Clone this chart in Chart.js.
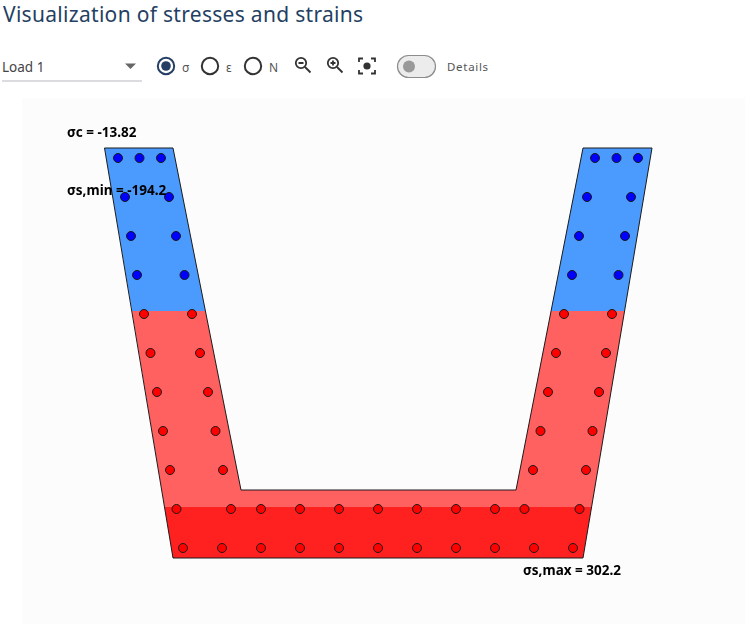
<!DOCTYPE html>
<html>
<head>
<meta charset="utf-8">
<title>Visualization of stresses and strains</title>
<script src="https://cdn.jsdelivr.net/npm/chart.js@4"></script>
<style>
    html, body { margin: 0; padding: 0; background: #fff; overflow: hidden; }
    body { width: 745px; height: 624px; position: relative; font-family: "Noto Sans", sans-serif; }
    .abs { position: absolute; white-space: nowrap; }
    #title { left: 3px; top: 0px; font-size: 21px; line-height: 28px; color: #243f63; letter-spacing: 0.3px; }
    #load { left: 2px; top: 58px; font-size: 13.5px; line-height: 18px; color: #444; }
    #underline { left: 2px; top: 80px; width: 140px; height: 2px; background: #dcdce0; }
    .lbl { font-size: 12px; line-height: 16px; color: #555; }
    #plot { position: absolute; left: 22px; top: 98px; width: 723px; height: 526px; background: #fcfcfc; }
    #toolbar { position: absolute; left: 0; top: 50px; }
</style>
</head>
<body>
<div class="abs" id="title">Visualization of stresses and strains</div>
<div class="abs" id="load">Load 1</div>
<div class="abs" id="underline"></div>
<svg id="toolbar" width="500" height="34" viewBox="0 50 500 34">
    <path d="M125 63.500h11l-5.500 5.500z" fill="#666"/>
    <circle cx="166" cy="66" r="8.200" fill="none" stroke="#243f63" stroke-width="2"/>
    <circle cx="166" cy="66" r="4.800" fill="#243f63"/>
    <circle cx="210" cy="66" r="8.200" fill="none" stroke="#333" stroke-width="2"/>
    <circle cx="253" cy="66" r="8.200" fill="none" stroke="#333" stroke-width="2"/>
    <g fill="none" stroke="#333" stroke-width="1.800">
        <circle cx="301" cy="63" r="5.200"/><path d="M305 67l5.500 5.500M298.500 63h5"/>
        <circle cx="333" cy="63" r="5.200"/><path d="M337 67l5.500 5.500M330.500 63h5M333 60.500v5"/>
        <path d="M359 62v-3.500h4M371 58.500h4v3.500M375 70v3.500h-4M363 73.500h-4v-3.500"/>
    </g>
    <circle cx="367" cy="66" r="3.600" fill="#333"/>
    <rect x="397.500" y="55.500" width="38" height="22" rx="11" fill="#ececec" stroke="#8c8c8c" stroke-width="1.200"/>
    <circle cx="409" cy="66.500" r="6" fill="#999"/>
</svg>
<div class="abs lbl" style="left:182px;top:60px">σ</div>
<div class="abs lbl" style="left:226px;top:60px">ε</div>
<div class="abs lbl" style="left:269px;top:60px">N</div>
<div class="abs lbl" style="left:447px;top:59px;font-size:11.5px;letter-spacing:.7px">Details</div>
<div id="plot"><canvas id="sectionChart"></canvas></div>
<script>
    // 断面の座標 (左下を原点, mm)
    const outline = [[-68.5, 410], [0, 410], [68, 68], [343, 68], [410, 410], [479, 410], [410, 0], [0, 0], [-68.5, 410]];
    const compressionLeft = [[-68.5, 410], [0, 410], [32.4, 247], [-41, 247]];
    const compressionRight = [[410, 410], [479, 410], [451.6, 247], [378, 247]];
    const tensionZone = [[-41, 247], [32.4, 247], [68, 68], [343, 68], [378, 247], [451.6, 247], [418.6, 51], [-8.5, 51]];
    const tensionMaxZone = [[-8.5, 51], [418.6, 51], [410, 0], [0, 0]];

    // 鉄筋の位置
    const compressedBars = [
        [-55, 400], [-33.5, 400], [-12, 400], [422, 400], [443.5, 400], [465, 400],
        [-48, 361], [-4, 361], [414, 361], [458, 361],
        [-42, 322], [3, 322], [406, 322], [452, 322],
        [-36, 283], [11.5, 283], [399, 283], [445.5, 283]
    ];
    const tensileBars = [
        [-29, 244], [19, 244], [391, 244], [439, 244],
        [-22.5, 205], [27, 205], [383, 205], [433, 205],
        [-16, 166], [35, 166], [375, 166], [426, 166],
        [-10, 127], [42.5, 127], [367.5, 127], [419.5, 127],
        [-3, 88], [50, 88], [360, 88], [413, 88],
        [3.5, 49], [58, 49], [88, 49], [127, 49], [166, 49], [205, 49], [244, 49], [283, 49], [322, 49], [351.5, 49], [406.5, 49],
        [10, 10], [49, 10], [88, 10], [127, 10], [166, 10], [205, 10], [244, 10], [283, 10], [322, 10], [361, 10], [400, 10]
    ];

    const resultTexts = ['σc = -13.82', 'σs,min = -194.2', 'σs,max = 302.2'];
    const resultPositions = [[-106, 425], [-106, 366.5], [350, -13]];

    function toPoints(list) {
        return list.map(p => ({ x: p[0], y: p[1] }));
    }

    function zoneDataset(list, color) {
        return {
            data: toPoints(list),
            showLine: true,
            fill: 'shape',
            backgroundColor: color,
            borderWidth: 0,
            borderColor: color,
            pointRadius: 0,
            tension: 0
        };
    }

    function barDataset(list, color) {
        return {
            data: toPoints(list),
            showLine: false,
            pointRadius: 4.5,
            pointBorderWidth: 1,
            pointBackgroundColor: color,
            pointBorderColor: '#1a1a1a'
        };
    }

    // σの値をキャンバスに描画
    const resultLabels = {
        id: 'resultLabels',
        afterDatasetsDraw(chart) {
            const { ctx, scales } = chart;
            ctx.save();
            ctx.font = '700 13.5px "Noto Sans"';
            ctx.fillStyle = '#000';
            ctx.textBaseline = 'middle';
            resultTexts.forEach((text, i) => {
                ctx.fillText(text, scales.x.getPixelForValue(resultPositions[i][0]), scales.y.getPixelForValue(resultPositions[i][1]));
            });
            ctx.restore();
        }
    };

    new Chart(document.getElementById('sectionChart'), {
        type: 'scatter',
        data: {
            datasets: [
                barDataset(compressedBars, '#0000ff'),
                barDataset(tensileBars, '#ff0000'),
                {
                    data: toPoints(outline),
                    showLine: true,
                    fill: false,
                    borderColor: '#1a1a1a',
                    borderWidth: 1,
                    pointRadius: 0,
                    tension: 0
                },
                zoneDataset(compressionLeft, '#4b9bff'),
                zoneDataset(compressionRight, '#4b9bff'),
                zoneDataset(tensionZone, '#ff6060'),
                zoneDataset(tensionMaxZone, '#ff2020')
            ]
        },
        options: {
            responsive: true,
            maintainAspectRatio: false,
            animation: false,
            layout: { autoPadding: false, padding: 0 },
            plugins: { legend: { display: false }, tooltip: { enabled: false } },
            scales: {
                x: { type: 'linear', display: false, min: -151, max: 572 },
                y: { type: 'linear', display: false, min: -66, max: 460 }
            }
        },
        plugins: [resultLabels]
    });
</script>
</body>
</html>
